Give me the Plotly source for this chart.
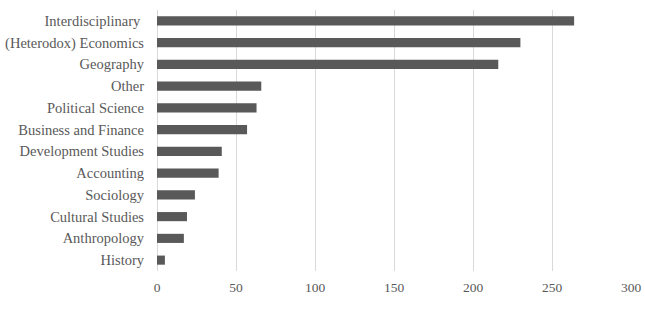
import plotly.graph_objects as go

categories = ["Interdisciplinary\u00a0", "(Heterodox) Economics", "Geography", "Other",
              "Political Science", "Business and Finance", "Development Studies",
              "Accounting", "Sociology", "Cultural Studies", "Anthropology", "History"]
values = [264, 230, 216, 66, 63, 57, 41, 39, 24, 19, 17, 5]
tick_vals = [0, 50, 100, 150, 200, 250, 300]

fig = go.Figure(go.Bar(
    x=values, y=categories, orientation="h",
    marker=dict(color="#595959", line=dict(width=0)),
))

font_family = "Liberation Serif"
fs = 14.5
fig.update_layout(
    width=645, height=317,
    margin=dict(l=157, r=14, t=10, b=46, autoexpand=False),
    paper_bgcolor="white", plot_bgcolor="white",
    bargap=0.58,
    showlegend=False,
    font=dict(family=font_family, size=fs, color="#595959"),
)
fig.update_xaxes(
    range=[0, 300], tickvals=tick_vals, showgrid=True, gridcolor="#d9d9d9",
    gridwidth=1, zeroline=True, zerolinecolor="#d9d9d9", zerolinewidth=1,
    showline=False, ticks="", automargin=False, ticklabelstandoff=6,
    tickfont=dict(family=font_family, size=13.5, color="#595959"),
)
fig.update_yaxes(
    categoryorder="array", categoryarray=categories[::-1],
    autorange=True, showgrid=False, showline=False, ticks="", automargin=False,
    ticklabelstandoff=12, tickfont=dict(family=font_family, size=fs, color="#595959"),
)

fig.write_html("out.html")
